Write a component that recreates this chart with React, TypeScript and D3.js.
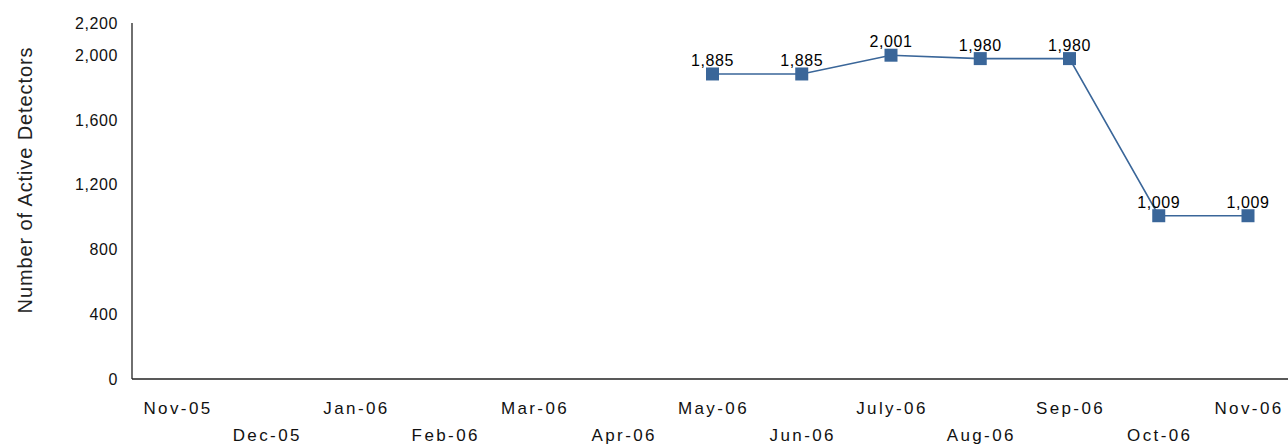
import React from "react";
import * as d3 from "d3";

// Monthly count of active detectors
const months = [
  "Nov-05", "Dec-05", "Jan-06", "Feb-06", "Mar-06", "Apr-06", "May-06",
  "Jun-06", "July-06", "Aug-06", "Sep-06", "Oct-06", "Nov-06",
];
const activeMonths = ["May-06", "Jun-06", "July-06", "Aug-06", "Sep-06", "Oct-06", "Nov-06"];
const activeDetectors = [1885, 1885, 2001, 1980, 1980, 1009, 1009];
const yTicks = [0, 400, 800, 1200, 1600, 2000, 2200];

const W = 1288;
const H = 444;
const axisX = 132;
const axisTop = 23;
const axisBottom = 379;
const color = "#3A6699";
const font = "'Liberation Sans', Arial, sans-serif";

export default function App() {
  const x = d3.scalePoint<string>().domain(months).range([177, 1248]);
  const y = d3.scaleLinear().domain([0, 2200]).range([axisBottom, axisTop]);
  const fmt = d3.format(",");

  const points = activeMonths.map((m, i) => ({ m, v: activeDetectors[i] }));
  const line = d3
    .line<{ m: string; v: number }>()
    .x((d) => x(d.m) as number)
    .y((d) => y(d.v));

  return (
    <svg
      width={W}
      height={H}
      style={{ position: "absolute", left: 0, top: 0, background: "#fff" }}
      fontFamily={font}
    >
      <rect width={W} height={H} fill="#fff" />
      {/* axes */}
      <line x1={axisX} x2={axisX} y1={axisTop} y2={axisBottom} stroke="#222" strokeWidth={1.3} />
      <line x1={axisX} x2={W} y1={axisBottom} y2={axisBottom} stroke="#222" strokeWidth={1.3} />

      {/* y tick labels */}
      {yTicks.map((t) => (
        <text
          key={t}
          x={118}
          y={y(t)}
          dy="0.35em"
          textAnchor="end"
          fontSize={16}
          letterSpacing={0.6}
          fill="#111"
        >
          {fmt(t)}
        </text>
      ))}

      {/* y axis title */}
      <text
        transform={`translate(25,180) rotate(-90)`}
        textAnchor="middle"
        dy="0.35em"
        fontSize={20}
        letterSpacing={0.9}
        fill="#222"
      >
        Number of Active Detectors
      </text>

      {/* x labels in two staggered rows */}
      {months.map((m, i) => (
        <text
          key={m}
          x={(x(m) as number) + 1}
          y={i % 2 === 0 ? 414 : 441}
          textAnchor="middle"
          fontSize={17}
          letterSpacing={2.4}
          fill="#111"
        >
          {m}
        </text>
      ))}

      {/* series */}
      <path d={line(points) ?? ""} fill="none" stroke={color} strokeWidth={1.6} />
      {points.map((p) => (
        <rect
          key={p.m}
          x={(x(p.m) as number) - 6.5}
          y={y(p.v) - 6.5}
          width={13}
          height={13}
          fill={color}
        />
      ))}
      {points.map((p) => (
        <text
          key={"l" + p.m}
          x={x(p.m) as number}
          y={y(p.v) - 8}
          textAnchor="middle"
          fontSize={16}
          letterSpacing={0.6}
          fill="#000"
        >
          {fmt(p.v)}
        </text>
      ))}
    </svg>
  );
}
